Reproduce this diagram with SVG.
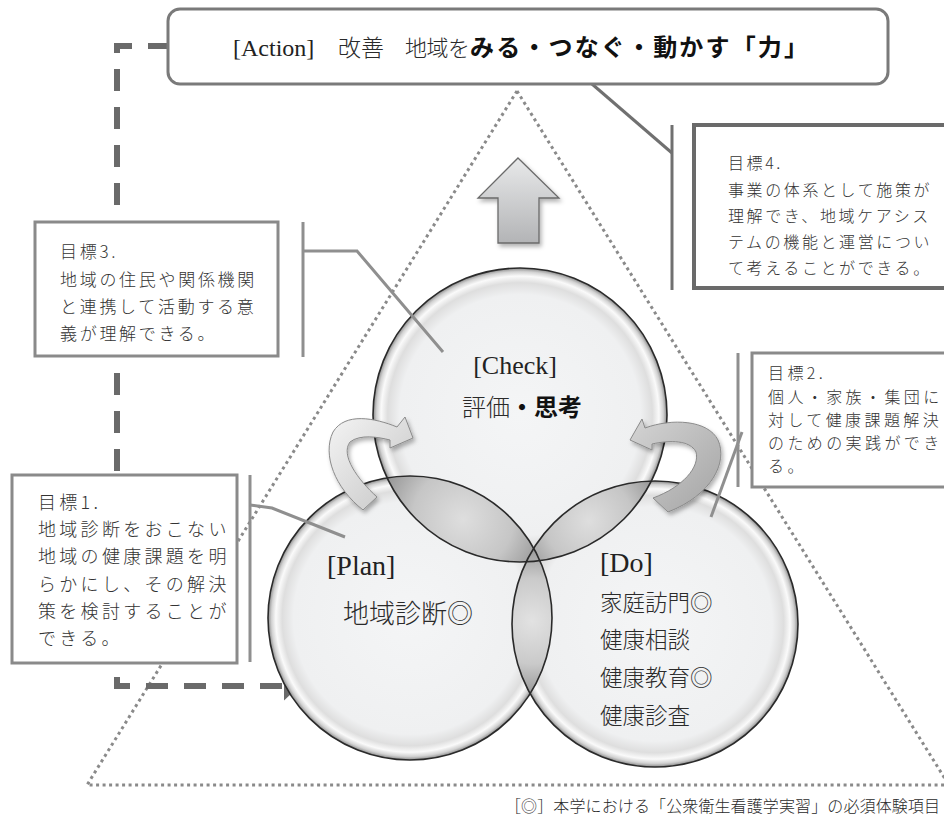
<svg xmlns="http://www.w3.org/2000/svg" width="944" height="829" viewBox="0 0 944 829">
<style>
.serif{font-family:"Liberation Serif","Times New Roman",serif;fill:#222}
.goth{font-family:"Noto Sans CJK JP","Noto Sans",sans-serif;fill:#2a2a2a;font-weight:300}
.bold{font-family:"Noto Sans CJK JP","Noto Sans",sans-serif;fill:#111;font-weight:700}
.mincho{font-family:"Noto Sans CJK JP","Noto Sans",sans-serif;fill:#333;font-weight:300}
.box{fill:#fff;stroke:#8a8a8a;stroke-width:3}
.conn{fill:none;stroke:#8f8f8f;stroke-width:3}
.outline{fill:none;stroke:#2a2a2a;stroke-width:1.6}
</style>
<defs>
<radialGradient id="glass" cx="0.5" cy="0.5" r="0.5">
<stop offset="0" stop-color="#f4f5f6"/>
<stop offset="0.82" stop-color="#eff0f1"/>
<stop offset="0.9" stop-color="#dedede"/>
<stop offset="0.945" stop-color="#fafafa"/>
<stop offset="0.975" stop-color="#d2d2d2"/>
<stop offset="1" stop-color="#8a8a8a"/>
</radialGradient>
<radialGradient id="lensCP" gradientUnits="userSpaceOnUse" cx="463" cy="519" r="92">
<stop offset="0" stop-color="#dedede"/>
<stop offset="0.55" stop-color="#c6c6c6"/>
<stop offset="1" stop-color="#8e8e8e"/>
</radialGradient>
<radialGradient id="lensCD" gradientUnits="userSpaceOnUse" cx="589" cy="521" r="80">
<stop offset="0" stop-color="#dedede"/>
<stop offset="0.55" stop-color="#c6c6c6"/>
<stop offset="1" stop-color="#8e8e8e"/>
</radialGradient>
<radialGradient id="lensPD" gradientUnits="userSpaceOnUse" cx="532" cy="621" r="78">
<stop offset="0" stop-color="#e2e2e2"/>
<stop offset="0.55" stop-color="#cacaca"/>
<stop offset="1" stop-color="#909090"/>
</radialGradient>
<clipPath id="clipCheck"><circle cx="520" cy="415" r="147"/></clipPath>
<clipPath id="clipPlan"><circle cx="410" cy="618" r="142"/></clipPath>
<linearGradient id="upGrad" x1="0" y1="0" x2="0" y2="1">
<stop offset="0" stop-color="#e8e9ea"/>
<stop offset="1" stop-color="#b3b4b6"/>
</linearGradient>
<linearGradient id="curlL" x1="0" y1="0" x2="1" y2="1">
<stop offset="0" stop-color="#f4f4f4"/>
<stop offset="1" stop-color="#c4c4c4"/>
</linearGradient>
<linearGradient id="curlR" x1="0" y1="0" x2="1" y2="1">
<stop offset="0" stop-color="#d4d4d4"/>
<stop offset="1" stop-color="#a4a4a4"/>
</linearGradient>
<filter id="shadow" x="-20%" y="-20%" width="150%" height="150%">
<feDropShadow dx="2" dy="3" stdDeviation="2" flood-color="#000" flood-opacity="0.3"/>
</filter>
<marker id="dashHead" markerWidth="6" markerHeight="6" refX="0" refY="3" orient="auto" markerUnits="strokeWidth">
<path d="M0,0.6 L2.6,3 L0,5.4 Z" fill="#6a6a6a"/>
</marker>
</defs>
<rect width="944" height="829" fill="#fff"/>

<g id="triangle">
<path d="M517 91 L87 785 L944 785 M517 91 L952 790" fill="none" stroke="#8a8a8a" stroke-width="3" stroke-dasharray="3 3.5"/>
</g>

<g id="connectors">
<path d="M170 46 H117 V686 H284" fill="none" stroke="#6a6a6a" stroke-width="6" stroke-dasharray="22 16" marker-end="url(#dashHead)"/>
<line class="conn" x1="592" y1="84" x2="672" y2="153" style="stroke:#707070"/>
<line class="conn" x1="672" y1="125" x2="672" y2="290" style="stroke:#707070"/>
</g>

<g id="action">
<rect x="168" y="9" width="720" height="75" rx="12" fill="#fff" stroke="#7a7a7a" stroke-width="3"/>
<text class="serif" x="233" y="56" font-size="24">[Action]</text>
<text class="goth" x="338" y="56" font-size="23">改善</text>
<text class="goth" x="405" y="56" font-size="22" textLength="65">地域を</text>
<text class="bold" x="470" y="56" font-size="24" textLength="338" lengthAdjust="spacing" style="font-weight:600">みる・つなぐ・動かす「力」</text>
</g>

<g id="up-arrow">
<path d="M518 158 L559 198 L539 198 L539 243 L498 243 L498 198 L478 198 Z" fill="url(#upGrad)" stroke="#6a6a6a" stroke-width="1.3" filter="url(#shadow)"/>
</g>

<g id="circles">
<circle id="plan-circle" cx="410" cy="618" r="142" fill="url(#glass)"/>
<circle id="do-circle" cx="655" cy="624" r="143" fill="url(#glass)"/>
<circle id="check-circle" cx="520" cy="415" r="147" fill="url(#glass)"/>
<circle cx="410" cy="618" r="142" fill="url(#lensCP)" clip-path="url(#clipCheck)"/>
<circle cx="655" cy="624" r="143" fill="url(#lensCD)" clip-path="url(#clipCheck)"/>
<circle cx="655" cy="624" r="143" fill="url(#lensPD)" clip-path="url(#clipPlan)"/>
<circle class="outline" cx="410" cy="618" r="142"/>
<circle class="outline" cx="655" cy="624" r="143"/>
<circle class="outline" cx="520" cy="415" r="147"/>
</g>

<g id="check">
<text class="serif" x="515" y="374" font-size="26" text-anchor="middle">[Check]</text>
<text x="462" y="416" font-size="24"><tspan class="goth">評価</tspan><tspan class="bold">・思考</tspan></text>
</g>
<g id="plan">
<text class="serif" x="327" y="575" font-size="28">[Plan]</text>
<text class="goth" x="343" y="623" font-size="26">地域診断◎</text>
</g>
<g id="do">
<text class="serif" x="600" y="572" font-size="28">[Do]</text>
<text class="goth" x="600" y="611" font-size="22.5">家庭訪門◎</text>
<text class="goth" x="600" y="648" font-size="22.5">健康相談</text>
<text class="goth" x="600" y="686" font-size="22.5">健康教育◎</text>
<text class="goth" x="600" y="724" font-size="22.5">健康診査</text>
</g>

<g id="curl-left">
<path d="M390 440 L390 448 L413 438 L405 417 L397 427 C375 418 345 412 333 432 C322 455 335 488 363 510 L377 497 C358 480 340 455 350 442 C360 434 378 437 390 440 Z" fill="url(#curlL)" stroke="#8a8a8a" stroke-width="1" filter="url(#shadow)"/>
</g>
<g id="curl-right">
<path d="M645 428 L642 419 L630 440 L652 450 L652 444 C670 440 690 440 696 452 C700 467 683 487 653 498 L668 512 C712 495 728 462 718 440 C708 420 672 418 645 428 Z" fill="url(#curlR)" stroke="#8a8a8a" stroke-width="1" filter="url(#shadow)"/>
</g>

<g id="goal-connectors">
<line class="conn" x1="303" y1="222" x2="303" y2="357"/>
<polyline class="conn" points="303,251 357,251 443,352"/>
<line class="conn" x1="738" y1="353" x2="738" y2="487"/>
<line class="conn" x1="742" y1="432" x2="711" y2="517"/>
<line class="conn" x1="250" y1="475" x2="250" y2="662"/>
<polyline class="conn" points="250,505 272,508 345,537"/>
</g>

<g id="goal3">
<rect class="box" x="35" y="222" width="243" height="134"/>
<g class="mincho" font-size="17" letter-spacing="2.7">
<text x="60" y="258">目標3.</text>
<text x="60" y="286">地域の住民や関係機関</text>
<text x="60" y="313">と連携して活動する意</text>
<text x="60" y="340">義が理解できる。</text>
</g>
</g>

<g id="goal4">
<rect x="694" y="125" width="260" height="163" fill="#fff" stroke="#6a6a6a" stroke-width="4"/>
<g class="mincho" font-size="16" letter-spacing="2.6">
<text x="728" y="169">目標4.</text>
<text x="728" y="196">事業の体系として施策が</text>
<text x="728" y="222">理解でき、地域ケアシス</text>
<text x="728" y="248">テムの機能と運営につい</text>
<text x="728" y="274">て考えることができる。</text>
</g>
</g>

<g id="goal2">
<rect class="box" x="752" y="353" width="200" height="134"/>
<g class="mincho" font-size="16" letter-spacing="3.4">
<text x="768" y="379">目標2.</text>
<text x="768" y="403">個人・家族・集団に</text>
<text x="768" y="426">対して健康課題解決</text>
<text x="768" y="449">のための実践ができ</text>
<text x="768" y="472">る。</text>
</g>
</g>

<g id="goal1">
<rect class="box" x="12" y="475" width="225" height="188"/>
<g class="mincho" font-size="18" letter-spacing="3.3">
<text x="38" y="509">目標1.</text>
<text x="38" y="536">地域診断をおこない</text>
<text x="38" y="563">地域の健康課題を明</text>
<text x="38" y="591">らかにし、その解決</text>
<text x="38" y="618">策を検討することが</text>
<text x="38" y="645">できる。</text>
</g>
</g>

<g id="footnote">
<text class="goth" x="505" y="812" font-size="16" textLength="435" lengthAdjust="spacing">［◎］本学における「公衆衛生看護学実習」の必須体験項目</text>
</g>
</svg>
